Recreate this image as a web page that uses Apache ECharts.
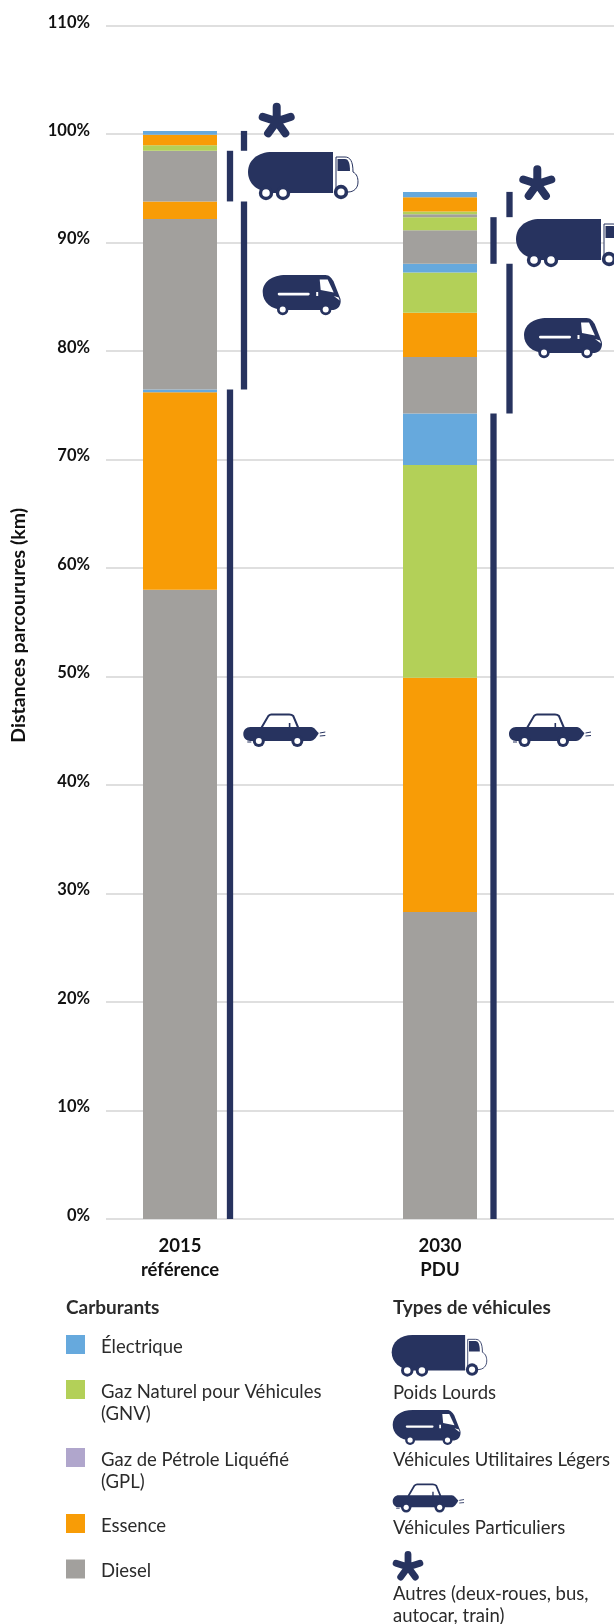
<!DOCTYPE html>
<html><head><meta charset="utf-8">
<style>html,body{margin:0;padding:0;background:#fff}#c{width:614px;height:1624px}</style>
<script src="https://cdn.jsdelivr.net/npm/echarts@6/dist/echarts.min.js"></script>
</head><body><div id="c"></div>
<script>
const categories = ['2015\nréférence', '2030\nPDU'];
const yTicks = [0,10,20,30,40,50,60,70,80,90,100,110];
const fuelElec = 'Électrique', fuelGnv = 'Gaz Naturel pour Véhicules\n(GNV)', fuelGpl = 'Gaz de Pétrole Liquéfié\n(GPL)', fuelEss = 'Essence', fuelDie = 'Diesel';
const vpDiesel = [58.0, 28.3], vpEssence = [18.2, 21.6], vpGnv = [0, 19.6], vpElec = [0.27, 4.75];
const vulDiesel = [15.7, 5.2], vulEssence = [1.63, 4.1], vulGnv = [0, 3.7], vulElec = [0, 0.8];
const plDiesel = [4.67, 3.1], plGnv = [0, 1.2];
const autresDiesel = [0, 0.28], autresGnv = [0.5, 0.25], autresEssence = [0.98, 1.3], autresElec = [0.35, 0.5];
const gplValues = [0, 0];
const vehicleLabels = ['Poids Lourds', 'Véhicules Utilitaires Légers', 'Véhicules Particuliers', 'Autres (deux-roues, bus,\nautocar, train)'];

const NAVY = '#27335f', FONT = 'Lato';
const colors = {[fuelElec]:'#66a9dd',[fuelGnv]:'#b3d058',[fuelGpl]:'#b0a6cc',[fuelEss]:'#f89c06',[fuelDie]:'#a2a09d'};
const stackOrder = [
  [fuelDie,vpDiesel],[fuelEss,vpEssence],[fuelGnv,vpGnv],[fuelElec,vpElec],
  [fuelDie,vulDiesel],[fuelEss,vulEssence],[fuelGnv,vulGnv],[fuelElec,vulElec],
  [fuelDie,plDiesel],[fuelGnv,plGnv],
  [fuelDie,autresDiesel],[fuelGnv,autresGnv],[fuelEss,autresEssence],[fuelElec,autresElec],
  [fuelGpl,gplValues]
];
const sum = (arrs,i)=>arrs.reduce((s,a)=>s+a[i],0);
const groups = [
  [vpDiesel,vpEssence,vpGnv,vpElec],
  [vulDiesel,vulEssence,vulGnv,vulElec],
  [plDiesel,plGnv],
  [autresDiesel,autresGnv,autresEssence,autresElec]
];
const bracketData = [];
categories.forEach((c,i)=>{ let b=0; groups.forEach((g,k)=>{ const t=b+sum(g,i); bracketData.push([i,b,t,k%2]); b=t; }); });
const bracketOffset = [[50,64],[53.5,69.5]];

const barSeries = stackOrder.map(([n,d])=>({
  type:'bar', name:n, stack:'t', xAxisIndex:1, yAxisIndex:1, barWidth:74,
  itemStyle:{color:colors[n]}, data:d, silent:true, z:3
}));
const bracketSeries = {
  type:'custom', xAxisIndex:1, yAxisIndex:1, silent:true, z:4, clip:false,
  encode:{x:0,y:[1,2]}, data:bracketData,
  renderItem:(p,api)=>{
    const i=api.value(0), a=api.coord([i,api.value(1)]), b=api.coord([i,api.value(2)]);
    const x=a[0]+bracketOffset[i][api.value(3)];
    return {type:'rect',shape:{x:x-3.15,y:b[1],width:6.3,height:a[1]-b[1]},style:{fill:NAVY}};
  }
};

function truck(x,y,s){return {type:'group',x,y,scaleX:s,scaleY:s,children:[
  {type:'path',shape:{pathData:'M24 0H85V41H24C10 40 0 32 0 20C0 8 10 0 24 0Z',x:0,y:0,width:85,height:41,layout:'cover'},style:{fill:NAVY}},
  {type:'path',shape:{pathData:'M88 40V5H97C102 5 105 9 105 20C109 22 110 26 110 30C110 36 106 40 100 40Z',x:88,y:5,width:22,height:35,layout:'cover'},style:{fill:'#fff',stroke:NAVY,lineWidth:1}},
  {type:'path',shape:{pathData:'M89.5 7H97C100 7 102 10 102 19H89.5Z',x:89.5,y:7,width:12.5,height:12,layout:'cover'},style:{fill:NAVY}},
  {type:'circle',shape:{cx:18,cy:41,r:7.2},style:{fill:NAVY}},{type:'circle',shape:{cx:35,cy:41,r:7.2},style:{fill:NAVY}},{type:'circle',shape:{cx:93,cy:40,r:7.2},style:{fill:NAVY}},
  {type:'circle',shape:{cx:18,cy:41,r:3.8},style:{fill:'#fff'}},{type:'circle',shape:{cx:35,cy:41,r:3.8},style:{fill:'#fff'}},{type:'circle',shape:{cx:93,cy:40,r:3.6},style:{fill:'#fff'}}
]};}
function van(x,y,s){return {type:'group',x,y,scaleX:s,scaleY:s,children:[
  {type:'path',shape:{pathData:'M23 0H62C66 0 68 3 70 6L77 24C78 30 75 34 70 35H22C8 35 0 27 0 17C0 7 9 0 23 0Z',x:0,y:0,width:78,height:35,layout:'cover'},style:{fill:NAVY}},
  {type:'circle',shape:{cx:20,cy:34.5,r:5.7},style:{fill:NAVY}},{type:'circle',shape:{cx:63,cy:34.5,r:5.7},style:{fill:NAVY}},
  {type:'circle',shape:{cx:20,cy:34.5,r:3},style:{fill:'#fff'}},{type:'circle',shape:{cx:63,cy:34.5,r:3},style:{fill:'#fff'}},
  {type:'rect',shape:{x:15,y:17.8,width:32,height:2.6,r:1.3},style:{fill:'#fff'}},
  {type:'rect',shape:{x:53.5,y:17,width:2,height:4},style:{fill:'#fff'}},
  {type:'polygon',shape:{points:[[57,4.5],[65,4.5],[71,17.5],[58,15]]},style:{fill:'#fff'}},
  {type:'polygon',shape:{points:[[71,21],[76,22.5],[77,25.5]]},style:{fill:'#fff'}}
]};}
function car(x,y,s){return {type:'group',x,y,scaleX:s,scaleY:s,children:[
  {type:'path',shape:{pathData:'M18 15L25 3C26 2 27 1.5 28 1.5H46C48 1.5 49 2 50 3L55 15',x:18,y:1.5,width:37,height:13.5,layout:'cover'},style:{fill:'none',stroke:NAVY,lineWidth:2}},
  {type:'path',shape:{pathData:'M7 14H68C71 14 73 18 75.5 20C74 23 71 28 67 28H7C3 28 0 25 0 21C0 17 3 14 7 14Z',x:0,y:14,width:75.5,height:14,layout:'cover'},style:{fill:NAVY}},
  {type:'rect',shape:{x:45.5,y:10,width:1.6,height:5},style:{fill:NAVY}},
  {type:'circle',shape:{cx:15.5,cy:28,r:6},style:{fill:NAVY}},{type:'circle',shape:{cx:54,cy:28,r:6},style:{fill:NAVY}},
  {type:'circle',shape:{cx:15.5,cy:28,r:3},style:{fill:'#fff'}},{type:'circle',shape:{cx:54,cy:28,r:3},style:{fill:'#fff'}},
  {type:'line',shape:{x1:76.5,y1:20,x2:82,y2:19},style:{stroke:NAVY,lineWidth:1}},
  {type:'line',shape:{x1:76.5,y1:23,x2:82,y2:22.5},style:{stroke:NAVY,lineWidth:1}},
  {type:'line',shape:{x1:4,y1:29,x2:8,y2:29},style:{stroke:NAVY,lineWidth:1}}
]};}
function star(x,y,s){return {type:'path',x,y,scaleX:s,scaleY:s,
  shape:{pathData:'M0 0L0 -14.7M0 0L14 -4.5M0 0L8.6 11.9M0 0L-8.6 11.9M0 0L-14 -4.5',x:-14,y:-14.7,width:28,height:26.6,layout:'cover'},
  style:{fill:'none',stroke:NAVY,lineWidth:8,lineCap:'round'}};}
const txt=(x,y,t,size,w,col,lh)=>({type:'text',x,y,style:{text:t,fontFamily:FONT,fontSize:size,fontWeight:w,fill:col,verticalAlign:'middle',lineHeight:lh||22}});

const iconSeries = {
  type:'custom', coordinateSystem:'none', silent:true, z:6, data:[0],
  renderItem:()=>({type:'group',children:[
    truck(248,152,1),van(262.7,275,1),car(243.3,713,1),star(276.7,121.4,1),
    truck(516,219,1),van(524,318,1),car(509,713,1),star(537.3,184,1),
    truck(391.7,1335,0.864),van(392.7,1410,0.87),car(392.7,1483,0.87),star(408,1567,0.85)
  ]})
};

const legendTops = [[fuelElec,1344.5,1],[fuelGnv,1389.5,2],[fuelGpl,1457.5,2],[fuelEss,1523.5,1],[fuelDie,1569,1]];
const LH = 22, SHIFT = 5;
const legends = legendTops.map(([n,cy,lines])=>{
  const spacer = (lines-1)*LH + SHIFT;
  return {left:66,top:cy-(spacer+lines*LH)/2,padding:0,orient:'vertical',itemWidth:19,itemHeight:19,itemGap:0,selectedMode:false,
    data:[{name:n,icon:'rect'}],
    formatter:t=>'{s| }\n'+t.split('\n').map(l=>'{t|'+l+'}').join('\n'),
    textStyle:{padding:[0,0,0,11],rich:{
      s:{fontSize:1,lineHeight:spacer,height:spacer},
      t:{fontFamily:FONT,fontSize:18.5,color:'#2b2b2b',lineHeight:LH}
    }}};
});

const chart = echarts.init(document.getElementById('c'),null,{renderer:'canvas'});
chart.setOption({
  animation:false, backgroundColor:'#fff',
  grid:[
    {left:106,right:0,top:25.7,bottom:1624-1219,outerBoundsMode:'none',containLabel:false},
    {left:50,width:520,top:25.7,bottom:1624-1219,outerBoundsMode:'none',containLabel:false}
  ],
  legend:legends,
  xAxis:[
    {gridIndex:0,type:'category',data:['',''],axisLine:{show:false},axisTick:{show:false},axisLabel:{show:false}},
    {gridIndex:1,type:'category',data:categories,axisLine:{show:false},axisTick:{show:false},
     axisLabel:{margin:15,fontFamily:FONT,fontWeight:700,fontSize:18.5,color:'#111',lineHeight:24,interval:0}}
  ],
  yAxis:[
    {gridIndex:0,type:'value',min:yTicks[0],max:yTicks[yTicks.length-1],interval:yTicks[1]-yTicks[0],
     name:'Distances parcourures (km)',nameLocation:'middle',nameGap:77.5,nameRotate:90,
     nameTextStyle:{fontFamily:FONT,fontWeight:700,fontSize:19.5,color:'#111',padding:[0,6,0,0]},
     axisLine:{show:false},axisTick:{show:false},
     axisLabel:{margin:16,fontFamily:FONT,fontWeight:700,fontSize:16.5,color:'#111',formatter:v=>v+'%',verticalAlign:'bottom',lineHeight:7},
     splitLine:{show:true,lineStyle:{color:'#d4d4d4',width:1.5}}},
    {gridIndex:1,type:'value',min:yTicks[0],max:yTicks[yTicks.length-1],interval:yTicks[1]-yTicks[0],show:false,splitLine:{show:false}}
  ],
  series:[...barSeries,bracketSeries,iconSeries],
  graphic:{elements:[
    txt(66,1308,'Carburants',19,700,'#2b2b2b'),txt(393,1308,'Types de véhicules',19,700,'#2b2b2b'),
    txt(393,1393.5,vehicleLabels[0],18.5,400,'#2b2b2b'),txt(393,1460,vehicleLabels[1],18.5,400,'#2b2b2b'),
    txt(393,1528,vehicleLabels[2],18.5,400,'#2b2b2b'),txt(393,1605,vehicleLabels[3],18.5,400,'#2b2b2b')
  ]}
});
</script></body></html>
